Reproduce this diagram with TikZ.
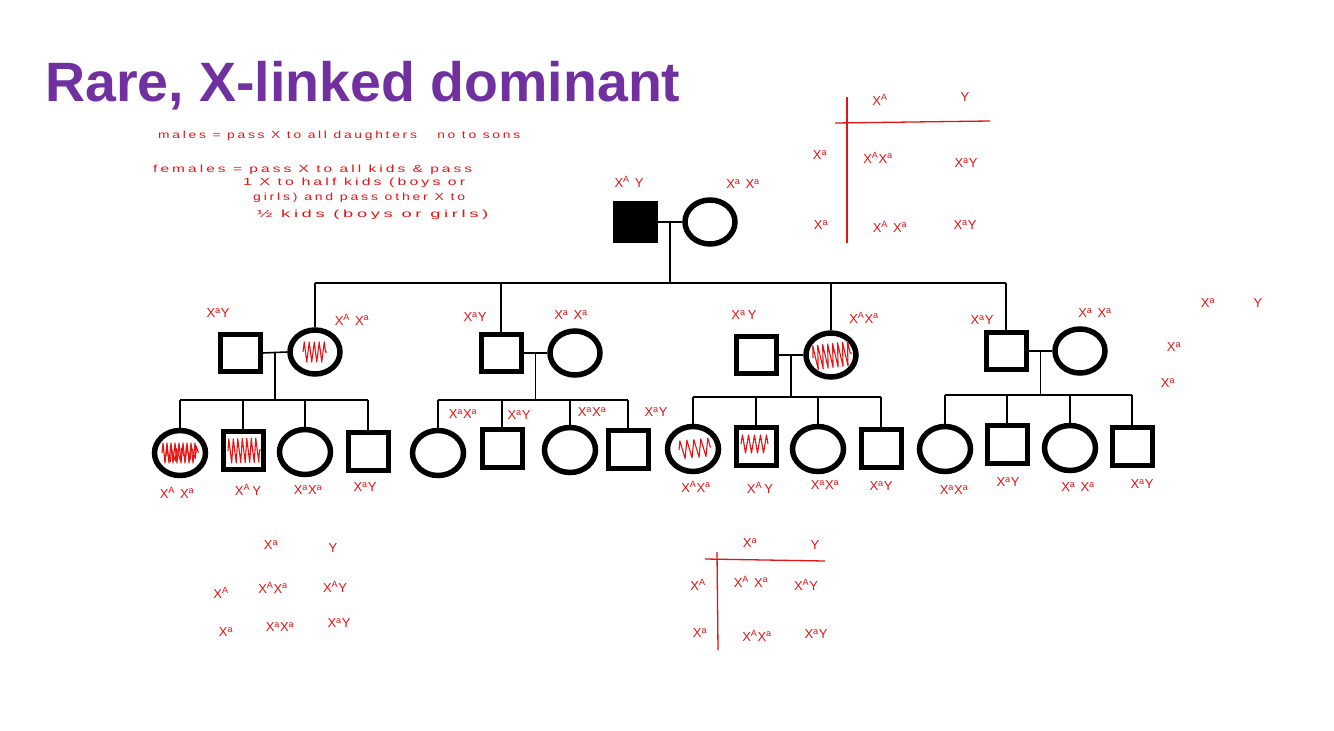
\documentclass[tikz,border=0pt]{standalone}
\usepackage{fontspec}
\setmainfont{Liberation Sans}
\newfontfamily\hand[LetterSpace=20]{Liberation Sans}
\usetikzlibrary{shapes.geometric,decorations.pathmorphing,calc}
\definecolor{ttl}{RGB}{112,48,160}
\definecolor{ink}{RGB}{228,20,20}
\newcommand\Xg[1]{X\textsuperscript{#1}}
\newcommand\gs{\hspace{5pt}}
\newcommand\nline[2]{\resizebox{#1}{7.5pt}{#2}}
\begin{document}
\begin{tikzpicture}[x=1pt,y=-1pt,
  male/.style={draw, rectangle, line width=5pt, minimum width=40pt, minimum height=37pt, inner sep=0pt},
  fem/.style={draw, ellipse, line width=5.5pt, minimum width=50pt, minimum height=44pt, inner sep=0pt},
  male3/.style={male, minimum width=40pt, minimum height=38pt},
  fem3/.style={fem, minimum width=51pt, minimum height=45pt},
  conn/.style={line width=1.6pt},
  gl/.style={text=ink, font=\fontsize{13}{15}\selectfont, inner sep=0pt},
  note/.style={text=ink, font=\hand\fontsize{11}{13}\selectfont, inner sep=0pt, anchor=west},
  pun/.style={draw=ink, line width=1.3pt},
  scr/.style={draw=ink, line width=1.1pt, line join=round, decorate, decoration={zigzag, segment length=5pt, amplitude=10pt}}
]
\useasboundingbox[fill=white] (0,0) rectangle (1334,731);

% title
\node[anchor=base west, inner sep=0pt, text=ttl, font=\fontsize{55.5}{60}\selectfont\bfseries] (title) at (45,101) {Rare, X-linked dominant};

% notes
\node[note] (n1) at (158,136) {\nline{362pt}{males = pass X to all daughters \quad no to sons}};
\node[note] (n2) at (153,170) {\nline{319pt}{females = pass X to all kids \& pass}};
\node[note] (n3) at (243,183) {\nline{222pt}{1 X to half kids (boys or}};
\node[note] (n4) at (253,198) {\nline{212pt}{girls) and pass other X to}};
\node[note] (n5) at (257,215) {\nline{231pt}{½ kids (boys or girls)}};

% generation I
\node[male, fill=black] (f) at (635,222) {};
\node[fem] (m) at (710,222) {};
\draw[conn] (f.east) -- (m.west);
\coordinate (d0) at ($(f.east)!0.5!(m.west)$);
\coordinate (y1) at (0,283);
\draw[conn] (d0) -- (d0 |- y1);

% generation II
\node[male] (h1) at (240,353) {};
\node[fem] (w1) at (315,352) {};
\node[male] (h2) at (501,353) {};
\node[fem] (w2) at (575,353) {};
\node[male] (h3) at (756,355) {};
\node[fem] (w3) at (831,355) {};
\node[male] (h4) at (1006,351) {};
\node[fem] (w4) at (1080,351) {};
\draw[conn] (w1.north |- y1) -- (h4.north |- y1);
\foreach \n in {w1,h2,w3,h4} \draw[conn] (\n.north) -- (\n.north |- y1);
\foreach \k in {1,2,3,4} {
  \draw[conn] (h\k.east) -- (w\k.west);
  \coordinate (d\k) at ($(h\k.east)!0.5!(w\k.west)$);
}

% generation III
\node[fem3] (a1) at (180,453) {};
\node[male3] (a2) at (243,450) {};
\node[fem3] (a3) at (305,452) {};
\node[male3] (a4) at (368,451) {};
\node[fem3] (b1) at (438,453) {};
\node[male3] (b2) at (502,448) {};
\node[fem3] (b3) at (570,450) {};
\node[male3] (b4) at (628,449) {};
\node[fem3] (c1) at (693,449) {};
\node[male3] (c2) at (756,446) {};
\node[fem3] (c3) at (818,449) {};
\node[male3] (c4) at (881,448) {};
\node[fem3] (e1) at (945,449) {};
\node[male3] (e2) at (1007,444) {};
\node[fem3] (e3) at (1070,448) {};
\node[male3] (e4) at (1132,446) {};
\coordinate (ya) at (0,400);
\coordinate (yb) at (0,400);
\coordinate (yc) at (0,397);
\coordinate (ye) at (0,395);
\foreach \f/\y/\d in {a/ya/d1, b/yb/d2, c/yc/d3, e/ye/d4} {
  \draw[conn] (\f1.north |- \y) -- (\f4.north |- \y);
  \draw[conn] (\d) -- (\d |- \y);
  \foreach \i in {1,2,3,4} \draw[conn] (\f\i.north) -- (\f\i.north |- \y);
}

% affected scribbles
\draw[scr] ($(w1.center)+(-12,0)$) -- ($(w1.center)+(12,0)$);
\draw[scr, decoration={amplitude=12pt, segment length=5pt}] ($(w3.center)+(-18,3)$) -- ($(w3.center)+(21,-2)$);
\draw[scr, decoration={amplitude=10pt, segment length=4pt}] ($(a1.center)+(-18,0)$) -- ($(a1.center)+(16,0)$);
\draw[scr, decoration={amplitude=6pt, segment length=5pt}] ($(a1.center)+(-14,3)$) -- ($(a1.center)+(19,-1)$);
\draw[scr, decoration={amplitude=12pt, segment length=4.5pt}] ($(a2.center)+(-15,1)$) -- ($(a2.center)+(18,0)$);
\draw[scr, decoration={amplitude=9pt, segment length=7pt}] ($(c1.center)+(-14,1)$) -- ($(c1.center)+(18,-2)$);
\draw[scr, decoration={amplitude=9pt, segment length=6pt}] ($(c2.center)+(-15,-2)$) -- ($(c2.center)+(12,-2)$);

% genotype labels
\node[gl] (g0a) at (629,182) {\Xg{A}\gs Y};
\node[gl] (g0b) at (743,184) {\Xg{a}\gs\Xg{a}};
\node[gl] (g1a) at (218,313) {\Xg{a}Y};
\node[gl] (g1b) at (352,320) {\Xg{A}\gs\Xg{a}};
\node[gl] (g2a) at (475,317) {\Xg{a}Y};
\node[gl] (g2b) at (571,315) {\Xg{a}\gs\Xg{a}};
\node[gl] (g3a) at (744,315) {\Xg{a}\,Y};
\node[gl] (g3b) at (864,318) {\Xg{A}\Xg{a}};
\node[gl] (g4a) at (982,320) {\Xg{a}Y};
\node[gl] (g4b) at (1095,313) {\Xg{a}\gs\Xg{a}};

\node[gl] (ga1) at (177,493) {\Xg{A}\gs\Xg{a}};
\node[gl] (ga2) at (248,490) {\Xg{A}\,Y};
\node[gl] (ga3) at (308,490) {\Xg{a}\Xg{a}};
\node[gl] (ga4) at (365,487) {\Xg{a}Y};
\node[gl] (gb1) at (463,414) {\Xg{a}\Xg{a}};
\node[gl] (gb2) at (519,415) {\Xg{a}Y};
\node[gl] (gb3) at (592,412) {\Xg{a}\Xg{a}};
\node[gl] (gb4) at (656,412) {\Xg{a}Y};
\node[gl] (gc1) at (696,487) {\Xg{A}\Xg{a}};
\node[gl] (gc2) at (760,488) {\Xg{A}\,Y};
\node[gl] (gc3) at (825,485) {\Xg{a}\Xg{a}};
\node[gl] (gc4) at (881,486) {\Xg{a}Y};
\node[gl] (ge1) at (954,490) {\Xg{a}\Xg{a}};
\node[gl] (ge2) at (1008,482) {\Xg{a}Y};
\node[gl] (ge3) at (1078,487) {\Xg{a}\gs\Xg{a}};
\node[gl] (ge4) at (1142,484) {\Xg{a}Y};

% Punnett square, top right
\draw[pun] (847,97) -- (847,243);
\draw[pun] (835,123) -- (990,121);
\node[gl] (p1a) at (880,100) {\Xg{A}};
\node[gl] (p1b) at (965,97) {Y};
\node[gl] (p1c) at (820,155) {\Xg{a}};
\node[gl] (p1d) at (821,225) {\Xg{a}};
\node[gl] (p1e) at (878,158) {\Xg{A}\Xg{a}};
\node[gl] (p1f) at (966,163) {\Xg{a}Y};
\node[gl] (p1g) at (890,227) {\Xg{A}\gs\Xg{a}};
\node[gl] (p1h) at (965,225) {\Xg{a}Y};

% right side
\node[gl] (r1) at (1208,303) {\Xg{a}};
\node[gl] (r2) at (1258,303) {Y};
\node[gl] (r3) at (1174,347) {\Xg{a}};
\node[gl] (r4) at (1168,383) {\Xg{a}};

% bottom left
\node[gl] (q1) at (271,545) {\Xg{a}};
\node[gl] (q2) at (333,548) {Y};
\node[gl] (q3) at (221,593) {\Xg{A}};
\node[gl] (q4) at (273,588) {\Xg{A}\Xg{a}};
\node[gl] (q5) at (335,587) {\Xg{A}Y};
\node[gl] (q6) at (226,632) {\Xg{a}};
\node[gl] (q7) at (280,627) {\Xg{a}\Xg{a}};
\node[gl] (q8) at (339,623) {\Xg{a}Y};

% Punnett square, bottom middle
\draw[pun] (717,552) -- (718,650);
\draw[pun] (705,559) -- (825,561);
\node[gl] (u1) at (750,543) {\Xg{a}};
\node[gl] (u2) at (815,545) {Y};
\node[gl] (u3) at (698,585) {\Xg{A}};
\node[gl] (u4) at (700,633) {\Xg{a}};
\node[gl] (u5) at (751,582) {\Xg{A}\gs\Xg{a}};
\node[gl] (u6) at (806,585) {\Xg{A}Y};
\node[gl] (u7) at (757,636) {\Xg{A}\Xg{a}};
\node[gl] (u8) at (816,634) {\Xg{a}Y};
\end{tikzpicture}
\end{document}
